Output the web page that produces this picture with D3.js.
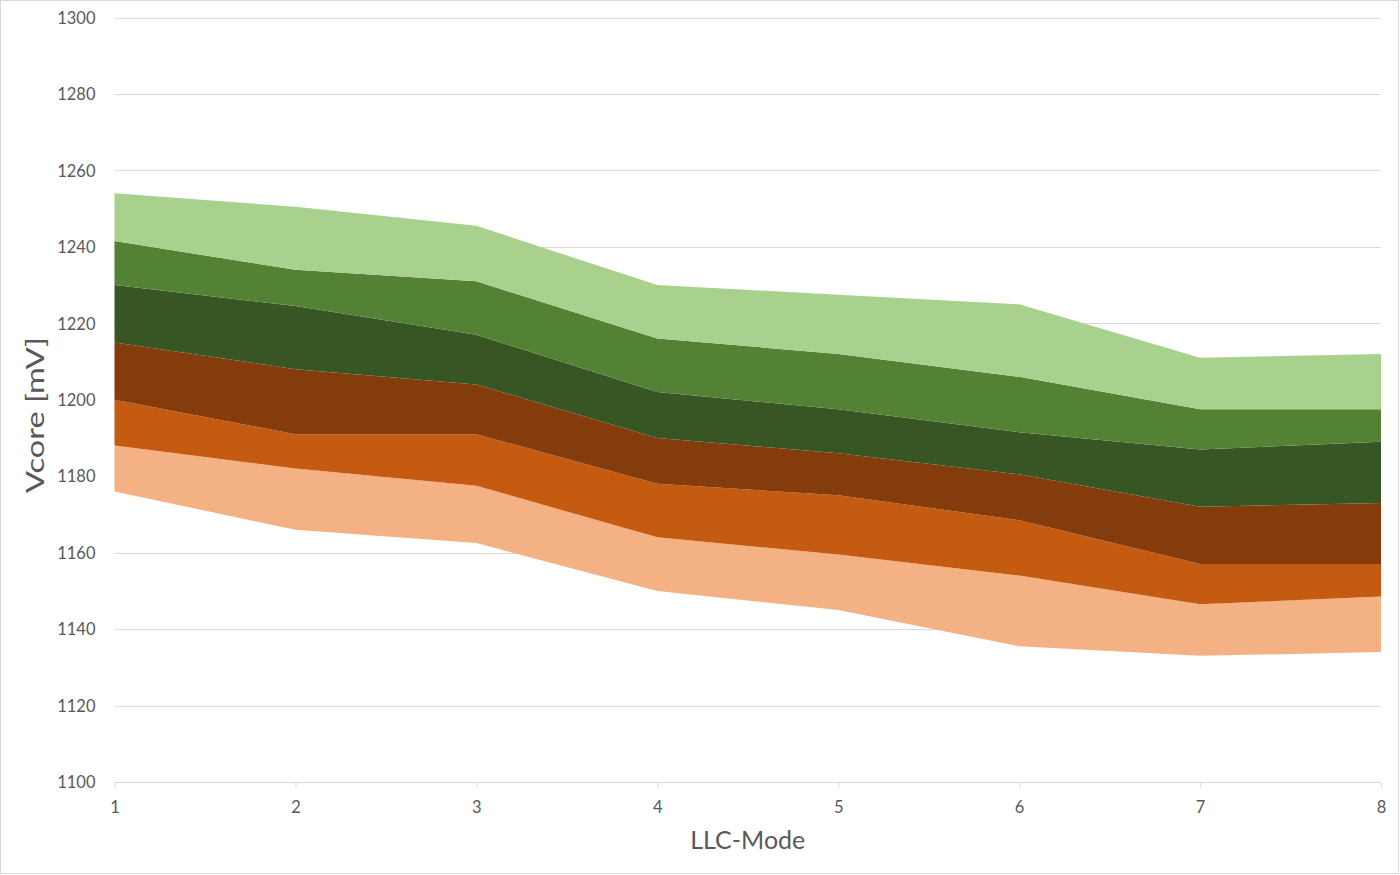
<!DOCTYPE html>
<html>
<head>
<meta charset="utf-8">
<script src="https://cdn.jsdelivr.net/npm/d3@7"></script>
<style>
  html, body { margin: 0; padding: 0; background: #fff; }
  svg { display: block; }
  text { font-family: Lato, "Open Sans", sans-serif; fill: #595959; }
</style>
</head>
<body>
<svg id="chart" width="1400" height="875"></svg>
<script>
// ---- data ----
const llcModes = [1, 2, 3, 4, 5, 6, 7, 8];
const yTicks = [1100, 1120, 1140, 1160, 1180, 1200, 1220, 1240, 1260, 1280, 1300];
// band boundaries (mV), bottom to top
const level0 = [1176, 1166, 1162.5, 1150, 1145, 1135.5, 1133, 1134];
const level1 = [1188, 1182, 1177.5, 1164, 1159.5, 1154, 1146.5, 1148.5];
const level2 = [1200, 1191, 1191, 1178, 1175, 1168.5, 1157, 1157];
const level3 = [1215, 1208, 1204, 1190, 1186, 1180.5, 1172, 1173];
const level4 = [1230, 1224.5, 1217, 1202, 1197.5, 1191.5, 1187, 1189];
const level5 = [1241.5, 1234, 1231, 1216, 1212, 1206, 1197.5, 1197.5];
const level6 = [1254, 1250.5, 1245.5, 1230, 1227.5, 1225, 1211, 1212];
const levels = [level0, level1, level2, level3, level4, level5, level6];
const bandColors = ["#F4B183", "#C55A11", "#843C0C", "#375623", "#548235", "#A9D18E"];

// ---- layout ----
const svg = d3.select("#chart");
const x = d3.scaleLinear().domain([1, 8]).range([114.5, 1381]);
const y = d3.scaleLinear().domain([1100, 1300]).range([782, 17.5]);

// outer border
svg.append("rect").attr("x", 0.5).attr("y", 0.5).attr("width", 1398).attr("height", 873)
  .attr("fill", "#fff").attr("stroke", "#d9d9d9").attr("stroke-width", 1);

// gridlines
svg.append("g").selectAll("line").data(yTicks.filter(d => d !== 1100)).join("line")
  .attr("x1", x(1)).attr("x2", x(8))
  .attr("y1", d => Math.round(y(d)) + 0.5).attr("y2", d => Math.round(y(d)) + 0.5)
  .attr("stroke", "#d9d9d9").attr("stroke-width", 1);

// bands
const area = d3.area()
  .x(d => x(d.m))
  .y0(d => y(d.lo))
  .y1(d => y(d.hi));
for (let i = 0; i < bandColors.length; i++) {
  const pts = llcModes.map((m, j) => ({ m, lo: levels[i][j], hi: levels[i + 1][j] }));
  svg.append("path").datum(pts).attr("d", area).attr("fill", bandColors[i]);
}

// y axis (labels only)
const yAxis = d3.axisLeft(y).tickValues(yTicks).tickSize(0).tickPadding(19).tickFormat(d3.format("d"));
const gy = svg.append("g").attr("transform", `translate(${x(1)},0.5)`).call(yAxis);
gy.select(".domain").remove();
gy.selectAll("text").attr("font-size", 16.5).attr("fill", "#595959").style("font-family", "Lato, sans-serif");

// x axis
const xAxis = d3.axisBottom(x).tickValues(llcModes).tickSize(5).tickPadding(14).tickFormat(d3.format("d"));
const gx = svg.append("g").attr("transform", `translate(0,${Math.round(y(1100)) + 0.5})`).call(xAxis);
gx.select(".domain").attr("stroke", "#d9d9d9").attr("d", `M${x(1)},0H${x(8)}`);
gx.selectAll(".tick line").attr("stroke", "#d9d9d9");
gx.selectAll("text").attr("font-size", 16.5).attr("fill", "#595959").style("font-family", "Lato, sans-serif");

// axis titles
svg.append("text").attr("x", (x(1) + x(8)) / 2).attr("y", 849)
  .attr("text-anchor", "middle").attr("font-size", 25).text("LLC-Mode");
svg.append("text").attr("transform", `translate(44,415) rotate(-90)`)
  .attr("text-anchor", "middle").attr("font-size", 25)
  .attr("textLength", 156).attr("lengthAdjust", "spacingAndGlyphs").text("Vcore [mV]");
</script>
</body>
</html>
